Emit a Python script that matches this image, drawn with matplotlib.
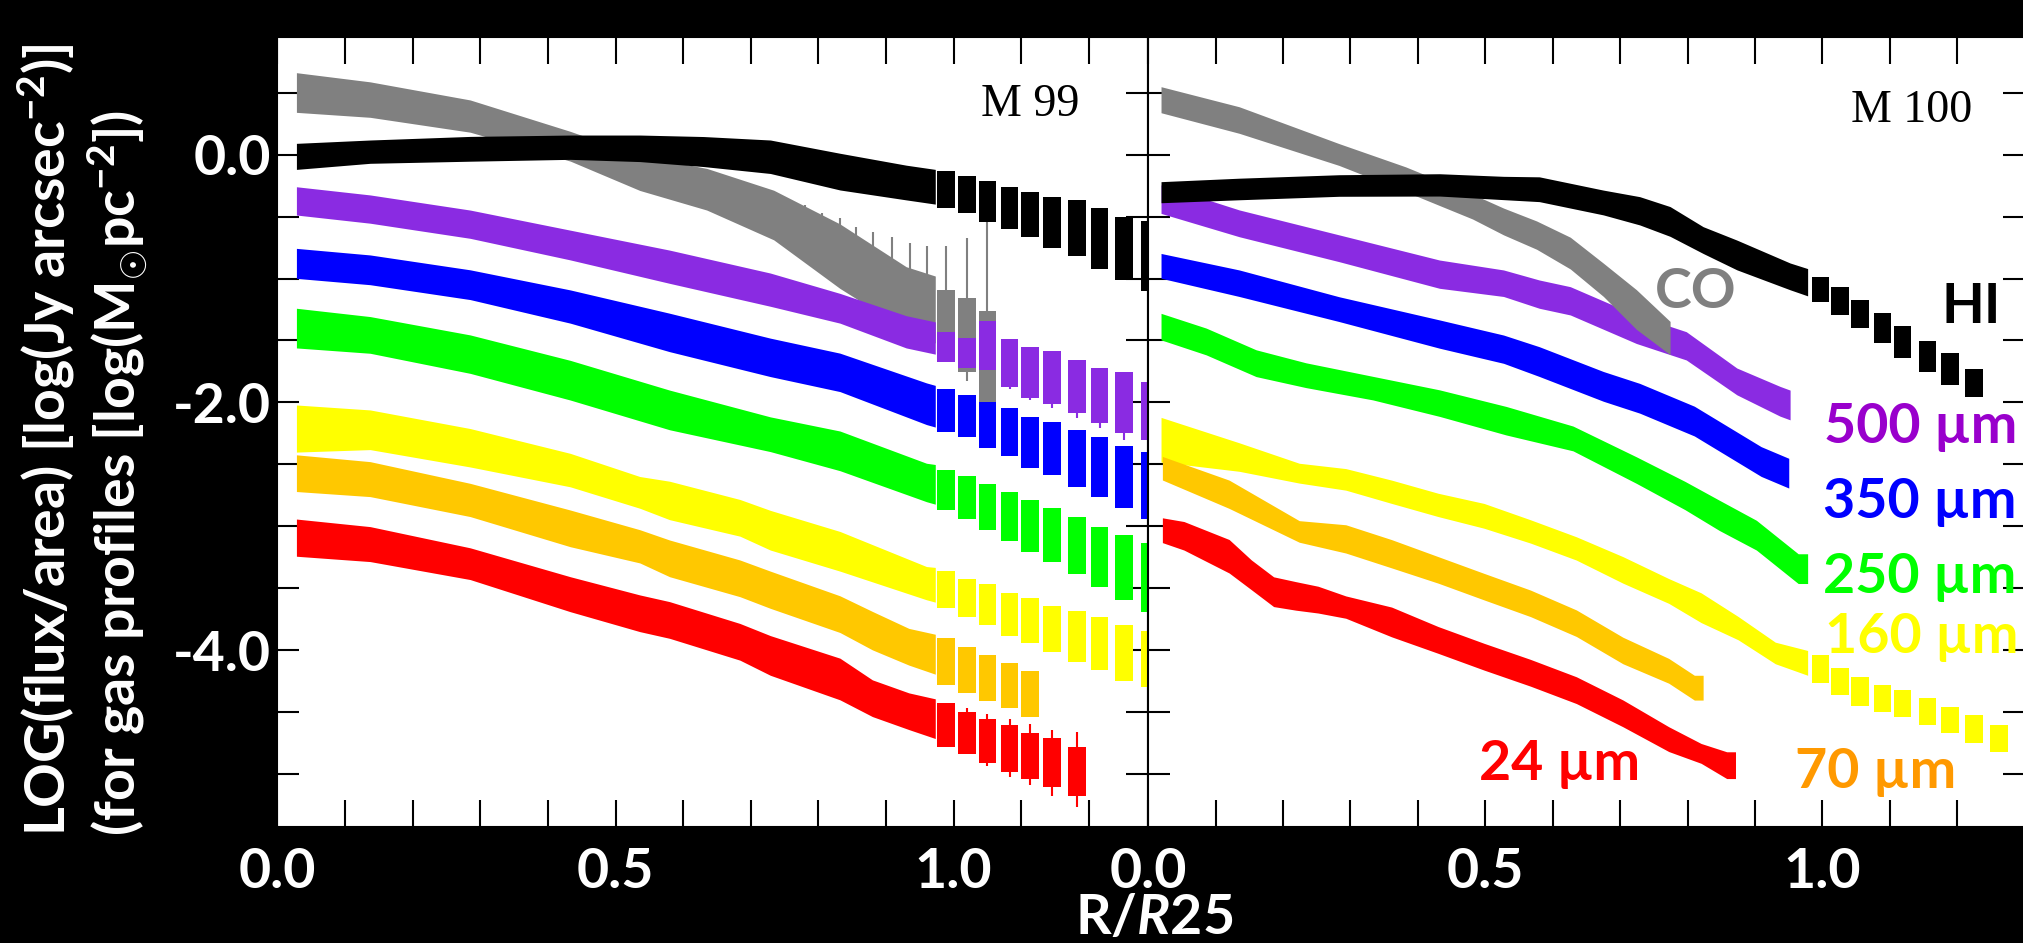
import numpy as np
import matplotlib
matplotlib.use("Agg")
import matplotlib.pyplot as plt
from matplotlib.ticker import MultipleLocator, FixedLocator

plt.rcParams['font.family'] = ['Lato', 'DejaVu Sans']
plt.rcParams['mathtext.fontset'] = 'custom'
plt.rcParams['mathtext.rm'] = 'Lato:bold'
plt.rcParams['mathtext.it'] = 'Lato:italic:bold'
plt.rcParams['mathtext.bf'] = 'Lato:bold'

# radii (R/R25) of the separate outer points
grid99 = [0.989, 1.020, 1.050, 1.083, 1.113, 1.146, 1.183, 1.216, 1.252, 1.291]
grid100 = [0.997, 1.026, 1.056, 1.089, 1.119, 1.156, 1.189, 1.225, 1.262]

# ---------------- M 99 ----------------
# inner profile: radius, log value, half width of the band
hi99_r = [0.028, 0.137, 0.285, 0.433, 0.536, 0.630, 0.729, 0.832, 0.930, 0.973]
hi99_y = [-0.015, 0.023, 0.046, 0.059, 0.05, 0.024, -0.018, -0.138, -0.226, -0.26]
hi99_e = [0.105, 0.094, 0.10, 0.098, 0.107, 0.121, 0.135, 0.148, 0.14, 0.14]
hi99_yo = [-0.28, -0.323, -0.378, -0.43, -0.487, -0.55, -0.59, -0.68, -0.756, -0.82]
hi99_eo = [0.149, 0.152, 0.164, 0.172, 0.182, 0.204, 0.225, 0.246, 0.255, 0.28]

co99_r = [0.028, 0.137, 0.285, 0.433, 0.536, 0.635, 0.734, 0.832, 0.930, 0.973]
co99_y = [0.50, 0.443, 0.31, 0.067, -0.15, -0.28, -0.488, -0.82, -1.16, -1.25]
co99_e = [0.16, 0.143, 0.13, 0.12, 0.14, 0.168, 0.2, 0.26, 0.255, 0.27]
co99_yo = [-1.38, -1.457, -1.63]
co99_eo = [0.29, 0.30, 0.366]
co99_wr = [0.696, 0.721, 0.738, 0.758, 0.780, 0.805, 0.832, 0.856, 0.881, 0.909,
           0.935, 0.961, 0.989, 1.020, 1.050]
co99_whi = [-0.232, -0.272, -0.313, -0.367, -0.407, -0.474, -0.514, -0.581, -0.621,
            -0.667, -0.716, -0.737, -0.737, -0.675, -0.541]
co99_wlo = [-0.35, -0.40, -0.45, -0.50, -0.55, -0.60, -0.65, -0.72, -0.80, -0.90,
            -0.95, -1.00, -1.10, -1.824, -1.30]

s500_99_r = [0.028, 0.137, 0.285, 0.433, 0.580, 0.729, 0.832, 0.930, 0.973]
s500_99_y = [-0.374, -0.44, -0.562, -0.73, -0.905, -1.09, -1.24, -1.43, -1.48]
s500_99_e = [0.114, 0.114, 0.114, 0.12, 0.134, 0.134, 0.12, 0.13, 0.13]
s500_99_yo = [-1.55, -1.60, -1.54, -1.68, -1.757, -1.80, -1.87, -1.946, -2.0, -2.07]
s500_99_eo = [0.12, 0.12, 0.195, 0.195, 0.208, 0.215, 0.215, 0.222, 0.242, 0.235]
s500_99_wlo = [-1.894, -1.98, -2.048, -2.128, -2.208, -2.30]

s350_99_r = [0.028, 0.137, 0.285, 0.433, 0.580, 0.729, 0.832, 0.960, 0.973]
s350_99_y = [-0.878, -0.93, -1.05, -1.226, -1.435, -1.636, -1.757, -2.01, -2.03]
s350_99_e = [0.121, 0.12, 0.12, 0.134, 0.155, 0.155, 0.155, 0.168, 0.168]
s350_99_yo = [-2.065, -2.11, -2.185, -2.24, -2.32, -2.37, -2.45, -2.52, -2.60, -2.67]
s350_99_eo = [0.17, 0.17, 0.185, 0.195, 0.206, 0.216, 0.23, 0.24, 0.25, 0.27]

s250_99_r = [0.028, 0.137, 0.285, 0.433, 0.580, 0.729, 0.832, 0.960, 0.973]
s250_99_y = [-1.40, -1.455, -1.61, -1.82, -2.06, -2.256, -2.39, -2.645, -2.66]
s250_99_e = [0.16, 0.148, 0.155, 0.16, 0.16, 0.14, 0.16, 0.155, 0.16]
s250_99_yo = [-2.705, -2.766, -2.84, -2.917, -2.995, -3.07, -3.15, -3.245, -3.33, -3.41]
s250_99_eo = [0.16, 0.175, 0.185, 0.198, 0.208, 0.22, 0.23, 0.24, 0.262, 0.276]

s160_99_r = [0.028, 0.137, 0.285, 0.433, 0.536, 0.580, 0.684, 0.729, 0.832, 0.960, 0.973]
s160_99_y = [-2.21, -2.22, -2.365, -2.545, -2.725, -2.79, -2.93, -3.03, -3.2, -3.457, -3.47]
s160_99_e = [0.19, 0.16, 0.155, 0.135, 0.128, 0.155, 0.148, 0.16, 0.16, 0.134, 0.14]
s160_99_yo = [-3.507, -3.577, -3.63, -3.707, -3.76, -3.825, -3.89, -3.945, -4.02, -4.065]
s160_99_eo = [0.152, 0.15, 0.164, 0.173, 0.18, 0.184, 0.206, 0.212, 0.228, 0.226]

s70_99_r = [0.028, 0.137, 0.285, 0.433, 0.536, 0.580, 0.684, 0.729, 0.832, 0.880, 0.934, 0.973]
s70_99_y = [-2.57, -2.618, -2.786, -3.015, -3.16, -3.257, -3.418, -3.51, -3.707, -3.84, -3.97, -4.03]
s70_99_e = [0.148, 0.141, 0.134, 0.148, 0.134, 0.148, 0.148, 0.15, 0.148, 0.155, 0.148, 0.161]
s70_99_yo = [-4.09, -4.155, -4.22, -4.285, -4.35]
s70_99_eo = [0.188, 0.185, 0.184, 0.181, 0.184]

s24_99_r = [0.028, 0.137, 0.285, 0.433, 0.536, 0.580, 0.684, 0.729, 0.832, 0.880, 0.934, 0.973]
s24_99_y = [-3.09, -3.142, -3.30, -3.546, -3.70, -3.754, -3.93, -4.04, -4.23, -4.385, -4.49, -4.55]
s24_99_e = [0.15, 0.141, 0.128, 0.141, 0.148, 0.148, 0.148, 0.16, 0.168, 0.148, 0.148, 0.16]
s24_99_yo = [-4.60, -4.665, -4.73, -4.79, -4.853, -4.905, -4.975]
s24_99_eo = [0.175, 0.172, 0.177, 0.188, 0.185, 0.198, 0.2]
s24_99_whi = [-4.466, -4.512, -4.555, -4.59, -4.64, -4.66]
s24_99_wlo = [-4.837, -4.931, -5.017, -5.085, -5.17, -5.26]

# ---------------- M 100 ----------------
hi100_r = [0.019, 0.135, 0.283, 0.432, 0.527, 0.580, 0.675, 0.729, 0.774, 0.823, 0.873, 0.952, 0.978]
hi100_y = [-0.304, -0.278, -0.25, -0.245, -0.27, -0.28, -0.387, -0.454, -0.54, -0.69, -0.81, -0.983, -1.03]
hi100_e = [0.085, 0.087, 0.087, 0.09, 0.094, 0.1, 0.1, 0.114, 0.12, 0.108, 0.12, 0.108, 0.11]
hi100_yo = [-1.086, -1.18, -1.287, -1.40, -1.515, -1.627, -1.73, -1.84]
hi100_eo = [0.1, 0.114, 0.114, 0.118, 0.128, 0.124, 0.128, 0.114]

co100_r = [0.019, 0.135, 0.283, 0.382, 0.481, 0.527, 0.576, 0.626, 0.675, 0.724, 0.774]
co100_y = [0.442, 0.278, 0.0, -0.20, -0.42, -0.54, -0.65, -0.795, -1.01, -1.25, -1.48]
co100_e = [0.105, 0.107, 0.088, 0.1, 0.1, 0.108, 0.114, 0.128, 0.134, 0.16, 0.134]

s500_100_r = [0.019, 0.135, 0.283, 0.432, 0.527, 0.580, 0.626, 0.724, 0.798, 0.873, 0.937, 0.952]
s500_100_y = [-0.36, -0.555, -0.756, -0.965, -1.038, -1.126, -1.18, -1.41, -1.543, -1.83, -1.99, -2.02]
s500_100_e = [0.115, 0.108, 0.108, 0.114, 0.107, 0.114, 0.114, 0.114, 0.114, 0.108, 0.12, 0.12]

s350_100_r = [0.019, 0.135, 0.283, 0.432, 0.527, 0.580, 0.675, 0.729, 0.81, 0.909, 0.95]
s350_100_y = [-0.898, -1.038, -1.247, -1.448, -1.57, -1.67, -1.87, -1.966, -2.15, -2.476, -2.57]
s350_100_e = [0.1, 0.107, 0.1, 0.114, 0.114, 0.12, 0.12, 0.12, 0.12, 0.12, 0.12]

s250_100_r = [0.019, 0.086, 0.16, 0.234, 0.333, 0.432, 0.531, 0.63, 0.724, 0.796, 0.847, 0.902, 0.964, 0.978]
s250_100_y = [-1.388, -1.508, -1.683, -1.78, -1.884, -2.005, -2.147, -2.29, -2.545, -2.75, -2.91, -3.07, -3.34, -3.34]
s250_100_e = [0.107, 0.108, 0.108, 0.1, 0.095, 0.107, 0.115, 0.1, 0.107, 0.114, 0.122, 0.12, 0.12, 0.12]

s160_100_r = [0.019, 0.135, 0.224, 0.293, 0.361, 0.43, 0.498, 0.567, 0.635, 0.704, 0.772, 0.82, 0.875, 0.93, 0.978]
s160_100_y = [-2.30, -2.44, -2.57, -2.62, -2.72, -2.826, -2.914, -3.04, -3.177, -3.35, -3.52, -3.655, -3.82, -4.02, -4.10]
s160_100_e = [0.18, 0.115, 0.08, 0.087, 0.094, 0.094, 0.1, 0.094, 0.094, 0.107, 0.1, 0.12, 0.094, 0.087, 0.1]
s160_100_yo = [-4.15, -4.25, -4.33, -4.385, -4.425, -4.49, -4.56, -4.635, -4.71]
s160_100_eo = [0.115, 0.108, 0.12, 0.108, 0.108, 0.108, 0.108, 0.115, 0.108]

s70_100_r = [0.021, 0.12, 0.224, 0.293, 0.361, 0.43, 0.498, 0.567, 0.635, 0.704, 0.772, 0.81, 0.823]
s70_100_y = [-2.53, -2.74, -3.04, -3.10, -3.22, -3.35, -3.485, -3.62, -3.78, -4.0, -4.164, -4.30, -4.30]
s70_100_e = [0.095, 0.114, 0.087, 0.114, 0.114, 0.107, 0.107, 0.107, 0.107, 0.107, 0.1, 0.1, 0.1]

s24_100_r = [0.021, 0.053, 0.12, 0.153, 0.186, 0.219, 0.252, 0.293, 0.361, 0.43, 0.498, 0.567,
             0.635, 0.704, 0.772, 0.82, 0.858, 0.871]
s24_100_y = [-3.03, -3.075, -3.24, -3.39, -3.526, -3.56, -3.59, -3.65, -3.77, -3.915, -4.05, -4.18,
             -4.32, -4.507, -4.715, -4.83, -4.925, -4.925]
s24_100_e = [0.1, 0.115, 0.135, 0.12, 0.12, 0.115, 0.108, 0.09, 0.12, 0.108, 0.108, 0.108,
             0.108, 0.108, 0.1, 0.08, 0.108, 0.108]

c_hi = 'black'
c_co = '#808080'
c500 = '#8A2BE2'
c350 = '#0000FF'
c250 = '#00FF00'
c160 = '#FFFF00'
c70 = '#FFC800'
c24 = '#FF0000'


def band(ax, r, y, e, color, z):
    y = np.array(y)
    e = np.array(e)
    ax.fill_between(r, y - e, y + e, color=color, lw=0, zorder=z)


def boxes(ax, r, y, e, color, z, w=0.026):
    y = np.array(y)
    e = np.array(e)
    ax.bar(r[:len(y)], 2 * e, bottom=y - e, width=w, color=color, lw=0, zorder=z)


fig = plt.figure(figsize=(20.24, 9.43), dpi=100, facecolor='black')
ax1 = fig.add_axes([0.1371, 0.1227, 0.4302, 0.8381])
ax2 = fig.add_axes([0.5673, 0.1227, 0.4334, 0.8381])

# M 99
band(ax1, co99_r, co99_y, co99_e, c_co, 2)
boxes(ax1, grid99, co99_yo, co99_eo, c_co, 2)
ax1.vlines(co99_wr, co99_wlo, co99_whi, color=c_co, lw=1.5, zorder=2)
for r, y, e, yo, eo, col in [
        (s500_99_r, s500_99_y, s500_99_e, s500_99_yo, s500_99_eo, c500),
        (s350_99_r, s350_99_y, s350_99_e, s350_99_yo, s350_99_eo, c350),
        (s250_99_r, s250_99_y, s250_99_e, s250_99_yo, s250_99_eo, c250),
        (s160_99_r, s160_99_y, s160_99_e, s160_99_yo, s160_99_eo, c160),
        (s70_99_r, s70_99_y, s70_99_e, s70_99_yo, s70_99_eo, c70),
        (s24_99_r, s24_99_y, s24_99_e, s24_99_yo, s24_99_eo, c24)]:
    band(ax1, r, y, e, col, 3)
    boxes(ax1, grid99, yo, eo, col, 3)
ax1.vlines(grid99[3:9], s500_99_wlo, np.array(s500_99_yo[3:9]), color=c500, lw=1.5, zorder=3)
ax1.vlines(grid99[1:7], s24_99_wlo, s24_99_whi, color=c24, lw=1.5, zorder=3)
band(ax1, hi99_r, hi99_y, hi99_e, c_hi, 4)
boxes(ax1, grid99, hi99_yo, hi99_eo, c_hi, 4)

# M 100
band(ax2, s500_100_r, s500_100_y, s500_100_e, c500, 2)
band(ax2, co100_r, co100_y, co100_e, c_co, 3)
for r, y, e, col in [(s350_100_r, s350_100_y, s350_100_e, c350),
                     (s250_100_r, s250_100_y, s250_100_e, c250),
                     (s160_100_r, s160_100_y, s160_100_e, c160),
                     (s70_100_r, s70_100_y, s70_100_e, c70),
                     (s24_100_r, s24_100_y, s24_100_e, c24)]:
    band(ax2, r, y, e, col, 3)
boxes(ax2, grid100, s160_100_yo, s160_100_eo, c160, 3)
band(ax2, hi100_r, hi100_y, hi100_e, c_hi, 4)
boxes(ax2, grid100, hi100_yo, hi100_eo, c_hi, 4)

tick_font = dict(fontsize=40, fontweight='bold', color='white')
for ax, xmax in [(ax1, 1.288), (ax2, 1.301)]:
    ax.set_facecolor('white')
    ax.set_xlim(0, xmax)
    ax.set_ylim(-5.426, 0.948)
    for s in ax.spines.values():
        s.set_color('black')
        s.set_linewidth(1.5)
    ax.xaxis.set_major_locator(FixedLocator([0.0, 0.5, 1.0]))
    ax.xaxis.set_minor_locator(MultipleLocator(0.1))
    ax.yaxis.set_major_locator(FixedLocator([-4.0, -2.0, 0.0]))
    ax.yaxis.set_minor_locator(MultipleLocator(0.5))
    ax.tick_params(axis='both', which='both', direction='in', top=True, right=True,
                   color='black', width=1.5)
    ax.tick_params(axis='x', which='both', length=19.5, pad=14)
    ax.tick_params(axis='y', which='both', length=16, pad=5)
    ax.set_xticklabels(['0.0', '0.5', '1.0'], **tick_font)

ax1.set_yticklabels(['-4.0', '-2.0', '0.0'], **tick_font)
ax2.tick_params(axis='y', labelleft=False)

ax1.text(1.113, 0.40, 'M 99', family='Liberation Serif', fontsize=33,
         ha='center', va='center', color='black', zorder=6)
ax2.text(1.132, 0.35, 'M 100', family='Liberation Serif', fontsize=33,
         ha='center', va='center', color='black', zorder=6)

lab = dict(fontsize=40, fontweight='bold', clip_on=False, zorder=6)
ax2.text(0.812, -1.238, 'CO', color='#808080', ha='center', va='baseline', **lab)
ax2.text(1.220, -1.359, 'HI', color='black', ha='center', va='baseline', **lab)
ax2.text(1.003, -2.327, '500 µm', color='#9900CC', ha='left', va='baseline', **lab)
ax2.text(1.001, -2.931, '350 µm', color='#0000FF', ha='left', va='baseline', **lab)
ax2.text(1.001, -3.536, '250 µm', color='#00FF00', ha='left', va='baseline', **lab)
ax2.text(1.004, -4.02, '160 µm', color='#FFFF00', ha='left', va='baseline', **lab)
ax2.text(0.960, -5.109, '70 µm', color='#FF9900', ha='left', va='baseline', **lab)
ax2.text(0.491, -5.044, '24 µm', color='#FF0000', ha='left', va='baseline', **lab)

fig.text(1154 / 2024, 1 - 893 / 943, r'R/$\mathit{R}$25', color='white', fontsize=40,
         fontweight='bold', ha='center', va='top')
fig.text(46 / 2024, 1 - 836 / 943, r'LOG(flux/area) [log(Jy arcsec$^{-2}$)]',
         color='white', fontsize=40, fontweight='bold', rotation=90, ha='center', va='bottom')
fig.text(117 / 2024, 1 - 836 / 943, r'(for gas profiles [log(M$_{\odot}$pc$^{-2}$])',
         color='white', fontsize=40, fontweight='bold', rotation=90, ha='center', va='bottom')

fig.savefig('out.png', dpi=100, facecolor='black')
